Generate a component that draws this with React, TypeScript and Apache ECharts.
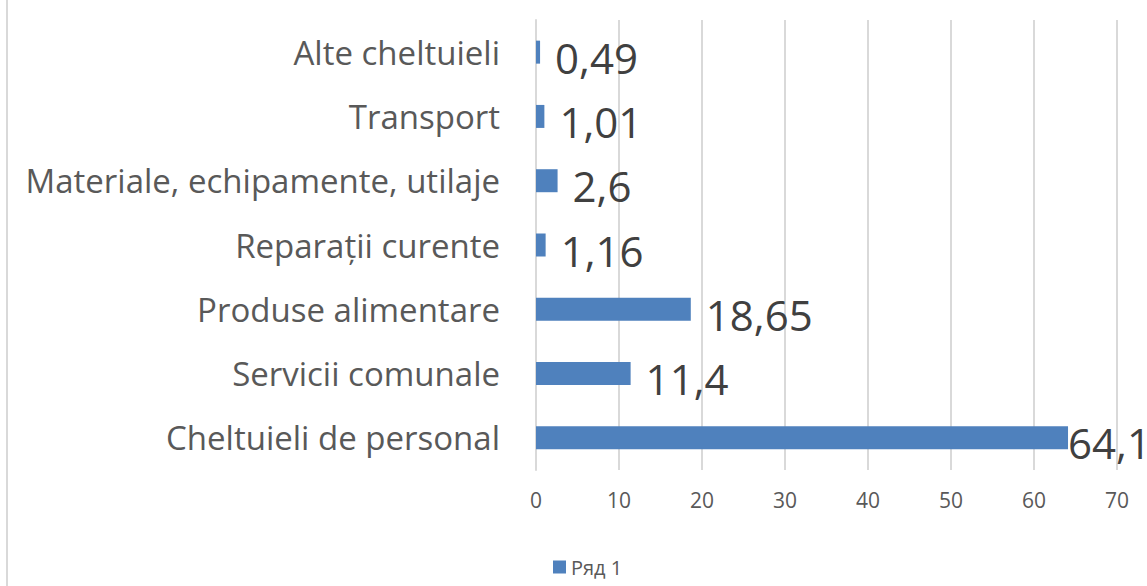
import React, { useEffect, useRef } from "react";
import * as echarts from "echarts";

const categories = [
  "Cheltuieli de personal",
  "Servicii comunale",
  "Produse alimentare",
  "Reparații curente",
  "Materiale, echipamente, utilaje",
  "Transport",
  "Alte cheltuieli",
];
const values = [64.1, 11.4, 18.65, 1.16, 2.6, 1.01, 0.49];
const seriesName = "Ряд 1";
const xTicks = [0, 10, 20, 30, 40, 50, 60, 70];

const FONT = "'Open Sans', 'Noto Sans', sans-serif";

export default function App() {
  const ref = useRef<HTMLDivElement>(null);
  useEffect(() => {
    document.body.style.margin = "0";
    const chart = echarts.init(ref.current!, null, { renderer: "svg" });
    chart.setOption({
      animation: false,
      backgroundColor: "#ffffff",
      grid: { left: 536, right: 30, top: 20, height: 450, containLabel: false },
      legend: {
        data: [seriesName],
        left: 548,
        top: 552,
        itemWidth: 13,
        itemHeight: 13,
        itemGap: 4,
        icon: "rect",
        textStyle: { color: "#595959", fontSize: 20, fontFamily: FONT },
      },
      xAxis: {
        type: "value",
        min: xTicks[0],
        max: xTicks[xTicks.length - 1],
        interval: 10,
        axisLine: { show: false },
        axisTick: { show: false },
        axisLabel: { color: "#595959", fontSize: 21, fontFamily: FONT, margin: 19 },
        splitLine: { show: true, lineStyle: { color: "#d9d9d9", width: 2 } },
      },
      yAxis: {
        type: "category",
        data: categories,
        axisLine: { show: true, lineStyle: { color: "#d9d9d9", width: 2 } },
        axisTick: { show: false },
        axisLabel: { color: "#595959", fontSize: 33, fontFamily: FONT, margin: 36 },
      },
      series: [
        {
          name: seriesName,
          type: "bar",
          data: values.map((v, i) =>
            i === 0
              ? { value: v, label: { distance: 0 } }
              : v
          ),
          barWidth: 23,
          itemStyle: { color: "#4f81bd" },
          label: {
            show: true,
            position: "right",
            distance: 15,
            color: "#404040",
            fontSize: 42,
            fontFamily: FONT,
            offset: [0, 5],
            formatter: (p: any) => String(p.value).replace(".", ","),
          },
        },
      ],
      graphic: [
        {
          type: "line",
          shape: { x1: 7, y1: 0, x2: 7, y2: 586 },
          style: { stroke: "#d9d9d9", lineWidth: 2 },
        },
      ],
    });
    return () => chart.dispose();
  }, []);
  return <div ref={ref} style={{ width: 1147, height: 586 }} />;
}
